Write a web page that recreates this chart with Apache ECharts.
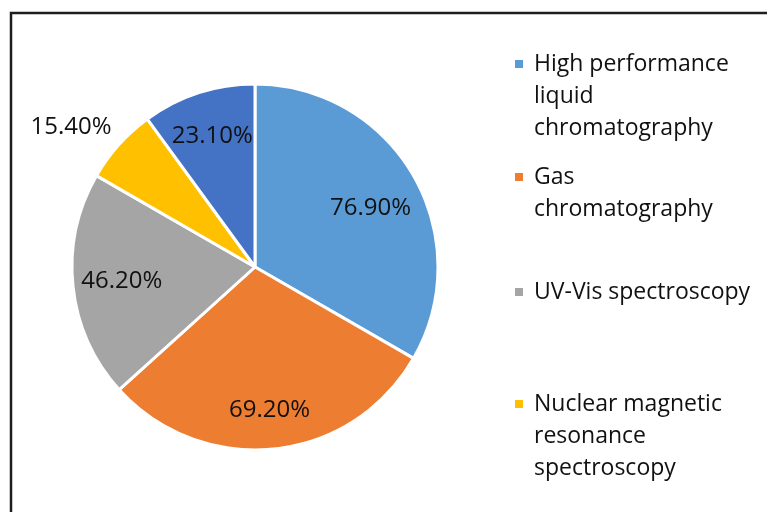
<!DOCTYPE html>
<html>
<head>
<meta charset="utf-8">
<script src="https://cdn.jsdelivr.net/npm/echarts@6/dist/echarts.min.js"></script>
<style>
  html, body { margin: 0; padding: 0; background: #fff; }
  #main { width: 767px; height: 512px; }
</style>
</head>
<body>
<div id="main"></div>
<script>
// slice order follows the pie clockwise from 12 o'clock
var categories = ['High performance liquid chromatography', 'Gas chromatography',
    'UV-Vis spectroscopy', 'Nuclear magnetic resonance spectroscopy', 'Other'];
var values = [76.9, 69.2, 46.2, 15.4, 23.1];
var valueLabels = ['76.90%', '69.20%', '46.20%', '15.40%', '23.10%'];
var legendLabels = ['High performance\nliquid\nchromatography', 'Gas\nchromatography',
    'UV-Vis spectroscopy', 'Nuclear magnetic\nresonance\nspectroscopy'];
var colors = ['#5B9BD5', '#ED7D31', '#A5A5A5', '#FFC000', '#4472C4'];

var dom = document.getElementById('main');
var myChart = echarts.init(dom);
var FONT = 'Open Sans';
var center = [255, 267];
var legendTops = [-16, 129, 276, 324];

var pieData = categories.map(function (c, i) {
    return { name: c, value: values[i], itemStyle: { color: colors[i] } };
});
var labelData = categories.map(function (c, i) {
    var d = { name: c, value: values[i] };
    if (i === 3) {
        // small slice: label sits outside, no leader line
        d.label = { position: 'outside', distanceToLabelLine: -12 };
        d.labelLine = { show: false, length: 26, length2: 0 };
    }
    return d;
});

var legends = legendLabels.map(function (txt, i) {
    var nLines = txt.split('\n').length;
    return {
        data: [categories[i]],
        orient: 'vertical',
        left: 513,
        top: legendTops[i],
        padding: 0,
        icon: 'rect',
        itemWidth: 10,
        itemHeight: 10,
        selectedMode: false,
        formatter: function () {
            // blank lines on top keep the square beside the first line
            return new Array(nLines).join('\n') + txt;
        },
        textStyle: {
            fontFamily: FONT,
            fontSize: 23,
            lineHeight: 32,
            color: '#111',
            padding: [0, 0, 0, 5]
        }
    };
});

option = {
    animation: false,
    legend: legends,
    graphic: [{
        type: 'polyline',
        shape: { points: [[11, 520], [11, 13], [780, 13]] },
        style: { stroke: '#1e1e1e', lineWidth: 2.5, fill: null },
        silent: true
    }],
    series: [{
        type: 'pie',
        center: center,
        radius: [0, 183],
        startAngle: 90,
        clockwise: true,
        avoidLabelOverlap: false,
        silent: true,
        label: { show: false },
        labelLine: { show: false },
        itemStyle: { borderColor: '#fff', borderWidth: 3 },
        data: pieData
    }, {
        // transparent ring only used to place the value labels
        type: 'pie',
        center: center,
        radius: [87, 183],
        startAngle: 90,
        clockwise: true,
        avoidLabelOverlap: false,
        silent: true,
        itemStyle: { color: 'rgba(0,0,0,0)' },
        label: {
            show: true,
            position: 'inside',
            fontFamily: FONT,
            fontSize: 24,
            color: '#111',
            formatter: function (p) { return valueLabels[p.dataIndex]; }
        },
        labelLine: { show: false },
        labelLayout: function (p) {
            // small nudges toward Excel's best-fit placement
            if (p.dataIndex === 0) return { dx: -4, dy: 10 };
            if (p.dataIndex === 1) return { dy: 6 };
            if (p.dataIndex === 2) return { dx: 4 };
            return {};
        },
        data: labelData
    }]
};
if (option && typeof option === "object") {
    myChart.setOption(option, true);
}
</script>
</body>
</html>
